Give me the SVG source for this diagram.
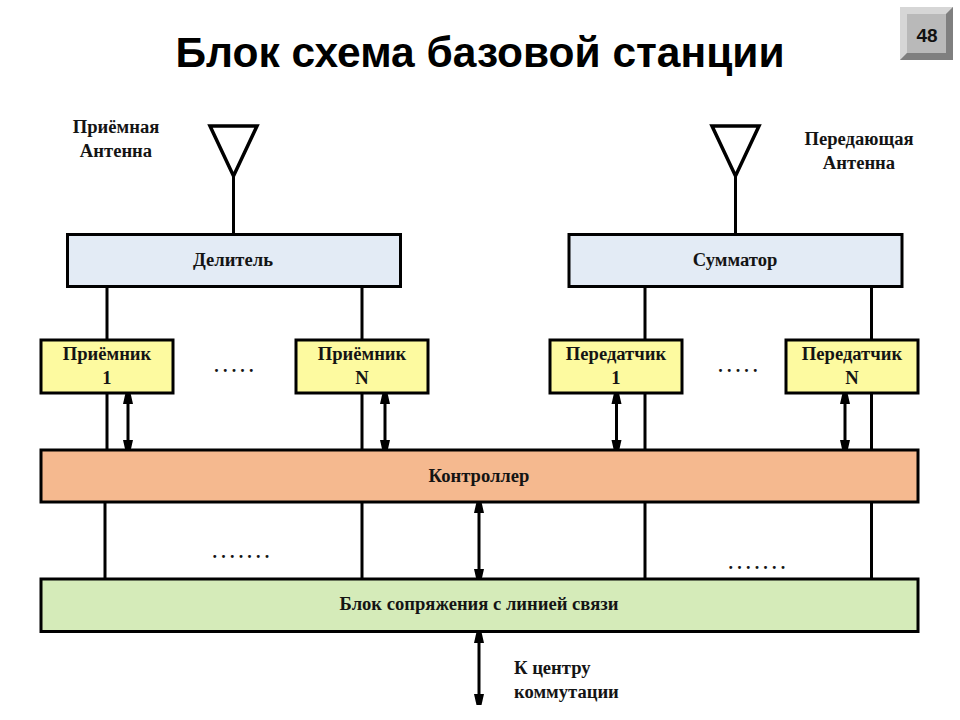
<svg xmlns="http://www.w3.org/2000/svg" width="960" height="720" viewBox="0 0 960 720">
<defs>
<marker id="ah" viewBox="0 0 12 12" refX="11" refY="6" markerUnits="userSpaceOnUse" markerWidth="12" markerHeight="12" orient="auto-start-reverse"><path d="M0 1L11 3.500V8.500L0 11Z" fill="#000"/></marker>
</defs>
<style>
text{font-family:"Liberation Serif","Times New Roman",serif;font-weight:bold;fill:#141414;text-anchor:middle;font-size:18.600px}
.box{stroke:#000;stroke-width:3}
.ln{stroke:#000;stroke-width:3;fill:none}
.ar{stroke:#000;stroke-width:3;fill:none;marker-start:url(#ah);marker-end:url(#ah)}
.dots{font-size:18px;letter-spacing:4.200px}
</style>
<rect width="960" height="720" fill="#fff"/>
<text x="480" y="67" style="font-family:'Liberation Sans',Arial,sans-serif;font-size:42.500px;fill:#000">Блок схема базовой станции</text>
<g id="page-badge">
<rect x="900" y="7" width="53" height="53" fill="#b9b9b9"/>
<path d="M900 7H953L946 14H907V53L900 60Z" fill="#d6d6d6"/>
<path d="M953 7V60H900L907 53H946V14Z" fill="#7f7f7f"/>
<rect x="907" y="14" width="39" height="39" fill="#b9b9b9"/>
<text x="927" y="42" style="font-family:'Liberation Sans',Arial,sans-serif;font-size:19px;fill:#111">48</text>
</g>
<g id="connectors">
<path class="ln" d="M233.500 177V234M735.500 177V234"/>
<path class="ln" d="M107 287V340M362 287V340M645 284V340M871.500 284V340"/>
<path class="ln" d="M107 393V450M362 393V450M645 393V450M871.500 393V450"/>
<path class="ln" d="M105 503V579M362 503V579M645 503V579M871.500 503V579"/>
<path class="ar" d="M128 393V451"/>
<path class="ar" d="M385 393V451"/>
<path class="ar" d="M616.500 393V451"/>
<path class="ar" d="M845 393V451"/>
<path class="ar" d="M479 502V580"/>
<path class="ar" d="M479 632V705"/>
</g>
<g id="antenna-rx"><path d="M210 126H257L233.500 176Z" fill="#fff" stroke="#000" stroke-width="3.500"/></g>
<g id="antenna-tx"><path d="M712 126H759L735.500 176Z" fill="#fff" stroke="#000" stroke-width="3.500"/></g>
<g id="label-rx"><text x="116" y="133">Приёмная</text><text x="116" y="157">Антенна</text></g>
<g id="label-tx"><text x="859" y="145">Передающая</text><text x="859" y="169">Антенна</text></g>
<g id="splitter"><rect class="box" x="67.500" y="234.500" width="333" height="52" fill="#e3ebf5"/><text x="233" y="266">Делитель</text></g>
<g id="combiner"><rect class="box" x="569" y="234.500" width="333" height="52" fill="#e3ebf5"/><text x="735" y="266">Сумматор</text></g>
<g id="rx1"><rect class="box" x="41" y="340" width="132" height="53" fill="#fdfaa0"/><text x="107" y="360">Приёмник</text><text x="107" y="384">1</text></g>
<g id="rxn"><rect class="box" x="296" y="340" width="132" height="53" fill="#fdfaa0"/><text x="362" y="360">Приёмник</text><text x="362" y="384">N</text></g>
<g id="tx1"><rect class="box" x="550" y="340" width="132" height="53" fill="#fdfaa0"/><text x="616" y="360">Передатчик</text><text x="616" y="384">1</text></g>
<g id="txn"><rect class="box" x="786" y="340" width="132" height="53" fill="#fdfaa0"/><text x="852" y="360">Передатчик</text><text x="852" y="384">N</text></g>
<g id="controller"><rect class="box" x="41" y="450" width="877" height="52" fill="#f5b98f"/><text x="479" y="482">Контроллер</text></g>
<g id="interface"><rect class="box" x="41" y="579" width="877" height="52.500" fill="#d5ebb9"/><text x="479" y="610">Блок сопряжения с линией связи</text></g>
<g id="dots">
<text class="dots" x="236" y="372">.....</text>
<text class="dots" x="740" y="372">.....</text>
<text class="dots" x="243" y="558">.......</text>
<text class="dots" x="759" y="569">.......</text>
</g>
<g id="label-center"><text x="514" y="674" style="text-anchor:start">К центру</text><text x="514" y="698" style="text-anchor:start">коммутации</text></g>
</svg>
